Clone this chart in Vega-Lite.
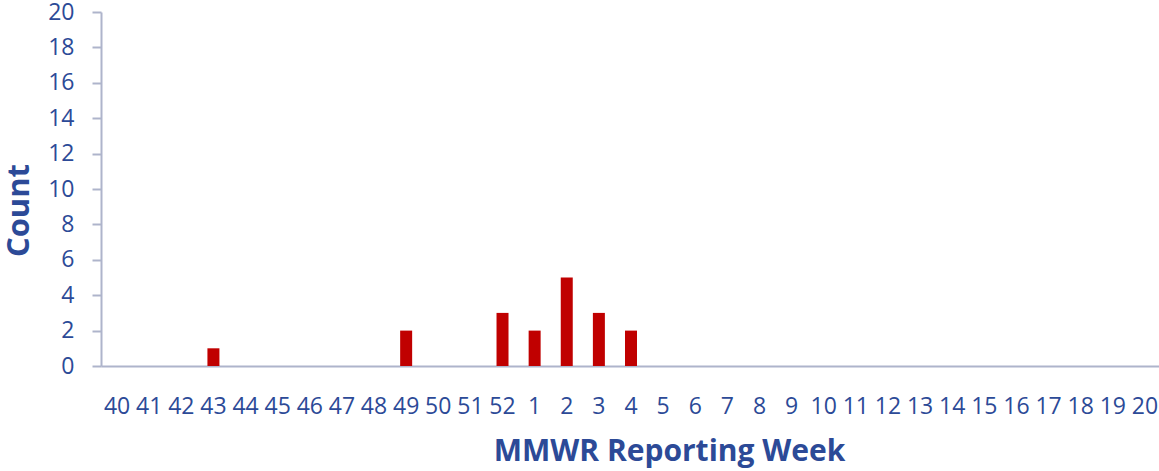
{
  "$schema": "https://vega.github.io/schema/vega-lite/v6.json",
  "autosize": {"type": "none"},
  "width": 1060,
  "height": 354,
  "padding": {"left": 101, "top": 12, "right": 0, "bottom": 105},
  "background": "white",
  "config": {"view": {"stroke": null}, "font": "Open Sans"},
  "data": {"values": [
    {"week": "40", "count": 0}, {"week": "41", "count": 0}, {"week": "42", "count": 0},
    {"week": "43", "count": 1}, {"week": "44", "count": 0}, {"week": "45", "count": 0},
    {"week": "46", "count": 0}, {"week": "47", "count": 0}, {"week": "48", "count": 0},
    {"week": "49", "count": 2}, {"week": "50", "count": 0}, {"week": "51", "count": 0},
    {"week": "52", "count": 3}, {"week": "1", "count": 2}, {"week": "2", "count": 5},
    {"week": "3", "count": 3}, {"week": "4", "count": 2}, {"week": "5", "count": 0},
    {"week": "6", "count": 0}, {"week": "7", "count": 0}, {"week": "8", "count": 0},
    {"week": "9", "count": 0}, {"week": "10", "count": 0}, {"week": "11", "count": 0},
    {"week": "12", "count": 0}, {"week": "13", "count": 0}, {"week": "14", "count": 0},
    {"week": "15", "count": 0}, {"week": "16", "count": 0}, {"week": "17", "count": 0},
    {"week": "18", "count": 0}, {"week": "19", "count": 0}, {"week": "20", "count": 0}
  ]},
  "mark": {"type": "bar", "color": "#C00000", "width": 12},
  "encoding": {
    "x": {
      "field": "week", "type": "ordinal", "sort": null,
      "scale": {"paddingInner": 0, "paddingOuter": 0},
      "axis": {
        "title": "MMWR Reporting Week",
        "titleFont": "Open Sans", "titleFontSize": 30, "titleFontWeight": "bold", "titleColor": "#2C4A97",
        "titleX": 568, "titleY": 94, "titleBaseline": "alphabetic", "titleAlign": "center", "titleAnchor": null,
        "labelAngle": 0, "labelFontSize": 23, "labelColor": "#2C4A97", "labelFont": "Open Sans",
        "labelPadding": 40, "labelBaseline": "middle",
        "ticks": false, "domainColor": "#AEB4CB", "domainWidth": 2,
        "grid": false
      }
    },
    "y": {
      "field": "count", "type": "quantitative",
      "scale": {"domain": [0, 20], "nice": false},
      "axis": {
        "title": "Count",
        "titleFont": "Open Sans", "titleFontSize": 31, "titleFontWeight": "bold", "titleColor": "#2C4A97",
        "titleX": -73, "titleY": 198, "titleAngle": -90, "titleBaseline": "alphabetic", "titleAlign": "center", "titleAnchor": null,
        "values": [0, 2, 4, 6, 8, 10, 12, 14, 16, 18, 20],
        "labelFontSize": 23, "labelColor": "#2C4A97", "labelFont": "Open Sans", "labelPadding": 18,
        "tickSize": 9, "tickColor": "#AEB4CB", "tickWidth": 2,
        "domainColor": "#AEB4CB", "domainWidth": 2, "grid": false
      }
    }
  }
}
